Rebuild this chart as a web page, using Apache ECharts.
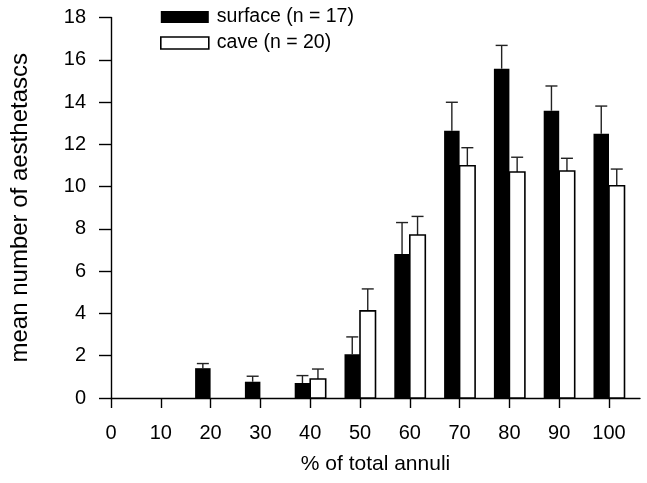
<!DOCTYPE html>
<html>
<head>
<meta charset="utf-8">
<script src="https://cdn.jsdelivr.net/npm/echarts@6/dist/echarts.min.js"></script>
<style>html,body{margin:0;padding:0;background:#fff}#c{width:647px;height:483px}</style>
</head>
<body>
<div id="c"></div>
<script>
const xValues = [0, 10, 20, 30, 40, 50, 60, 70, 80, 90, 100];
const surfaceMean = [0, 0, 1.41, 0.77, 0.71, 2.07, 6.81, 12.64, 15.58, 13.59, 12.5];
const surfaceSE   = [0, 0, 0.22, 0.26, 0.35, 0.82, 1.49, 1.35, 1.10, 1.17, 1.31];
const caveMean    = [0, 0, 0, 0, 0.90, 4.12, 7.71, 10.99, 10.69, 10.74, 10.04];
const caveSE      = [0, 0, 0, 0, 0.47, 1.04, 0.88, 0.85, 0.70, 0.60, 0.79];
const yTicks = [0, 2, 4, 6, 8, 10, 12, 14, 16, 18];
const seriesNames = ['surface (n = 17)', 'cave (n = 20)'];

const FONT = 'Liberation Sans, Arial, sans-serif';
const BAR_W = 15.5;

function makeRender(side, fill) {
  return function (params, api) {
    const x = api.value(0), v = api.value(1), se = api.value(2);
    if (!v) return null;
    const top = api.coord([x, v]);
    const base = api.coord([x, 0]);
    const errTop = api.coord([x, v + se]);
    const left = side < 0 ? top[0] - BAR_W : top[0];
    const cx = left + BAR_W / 2;
    const children = [
      { type: 'line', shape: { x1: cx, y1: top[1], x2: cx, y2: errTop[1] },
        style: { stroke: '#222', lineWidth: 1.4 } },
      { type: 'line', shape: { x1: cx - 6, y1: errTop[1], x2: cx + 6, y2: errTop[1] },
        style: { stroke: '#222', lineWidth: 1.4 } },
      { type: 'rect', shape: { x: left, y: top[1], width: BAR_W, height: base[1] - top[1] },
        style: { fill: fill, stroke: '#000', lineWidth: fill === '#000' ? 0 : 1.6 } }
    ];
    return { type: 'group', children: children };
  };
}

const chart = echarts.init(document.getElementById('c'), null, { renderer: 'canvas' });
chart.setOption({
  animation: false,
  backgroundColor: '#fff',
  grid: { left: 111, right: 7, top: 17.5, bottom: 85, containLabel: false },
  legend: {
    orient: 'vertical', left: 155, top: 2, itemWidth: 48, itemHeight: 12, itemGap: 6,
    textStyle: { fontFamily: FONT, fontSize: 19.5, color: '#000', padding: [0, 0, 0, 3] },
    data: [
      { name: seriesNames[0], icon: 'rect', itemStyle: { color: '#000', borderWidth: 0 } },
      { name: seriesNames[1], icon: 'rect', itemStyle: { color: '#fff', borderColor: '#000', borderWidth: 1.6 } }
    ]
  },
  xAxis: {
    type: 'value', min: 0, max: 100 * (640 - 111) / (609 - 111), interval: 10,
    splitLine: { show: false },
    axisLine: { show: true, onZero: false, lineStyle: { color: '#000', width: 1.4 } },
    axisTick: { show: true, inside: false, length: 10, customValues: xValues, lineStyle: { color: '#000', width: 1.4 } },
    axisLabel: { customValues: xValues, margin: 25, fontFamily: FONT, fontSize: 20, color: '#000' },
    name: '% of total annuli', nameLocation: 'middle', nameGap: 56,
    nameTextStyle: { fontFamily: FONT, fontSize: 21, color: '#000' }
  },
  yAxis: {
    type: 'value', min: 0, max: 18, interval: 2,
    splitLine: { show: false },
    axisLine: { show: true, lineStyle: { color: '#000', width: 1.4 } },
    axisTick: { show: true, length: 12, customValues: yTicks, lineStyle: { color: '#000', width: 1.4 } },
    axisLabel: { customValues: yTicks, margin: 25, fontFamily: FONT, fontSize: 20, color: '#000' },
    name: 'mean number of aesthetascs', nameLocation: 'middle', nameGap: 79,
    nameTextStyle: { fontFamily: FONT, fontSize: 24, color: '#000' }
  },
  series: [
    { name: seriesNames[0], type: 'custom', renderItem: makeRender(-1, '#000'),
      itemStyle: { color: '#000' },
      encode: { x: 0, y: 1 },
      data: xValues.map((x, i) => [x, surfaceMean[i], surfaceSE[i]]) },
    { name: seriesNames[1], type: 'custom', renderItem: makeRender(1, '#fff'),
      itemStyle: { color: '#fff', borderColor: '#000' },
      encode: { x: 0, y: 1 },
      data: xValues.map((x, i) => [x, caveMean[i], caveSE[i]]) }
  ]
});
</script>
</body>
</html>
